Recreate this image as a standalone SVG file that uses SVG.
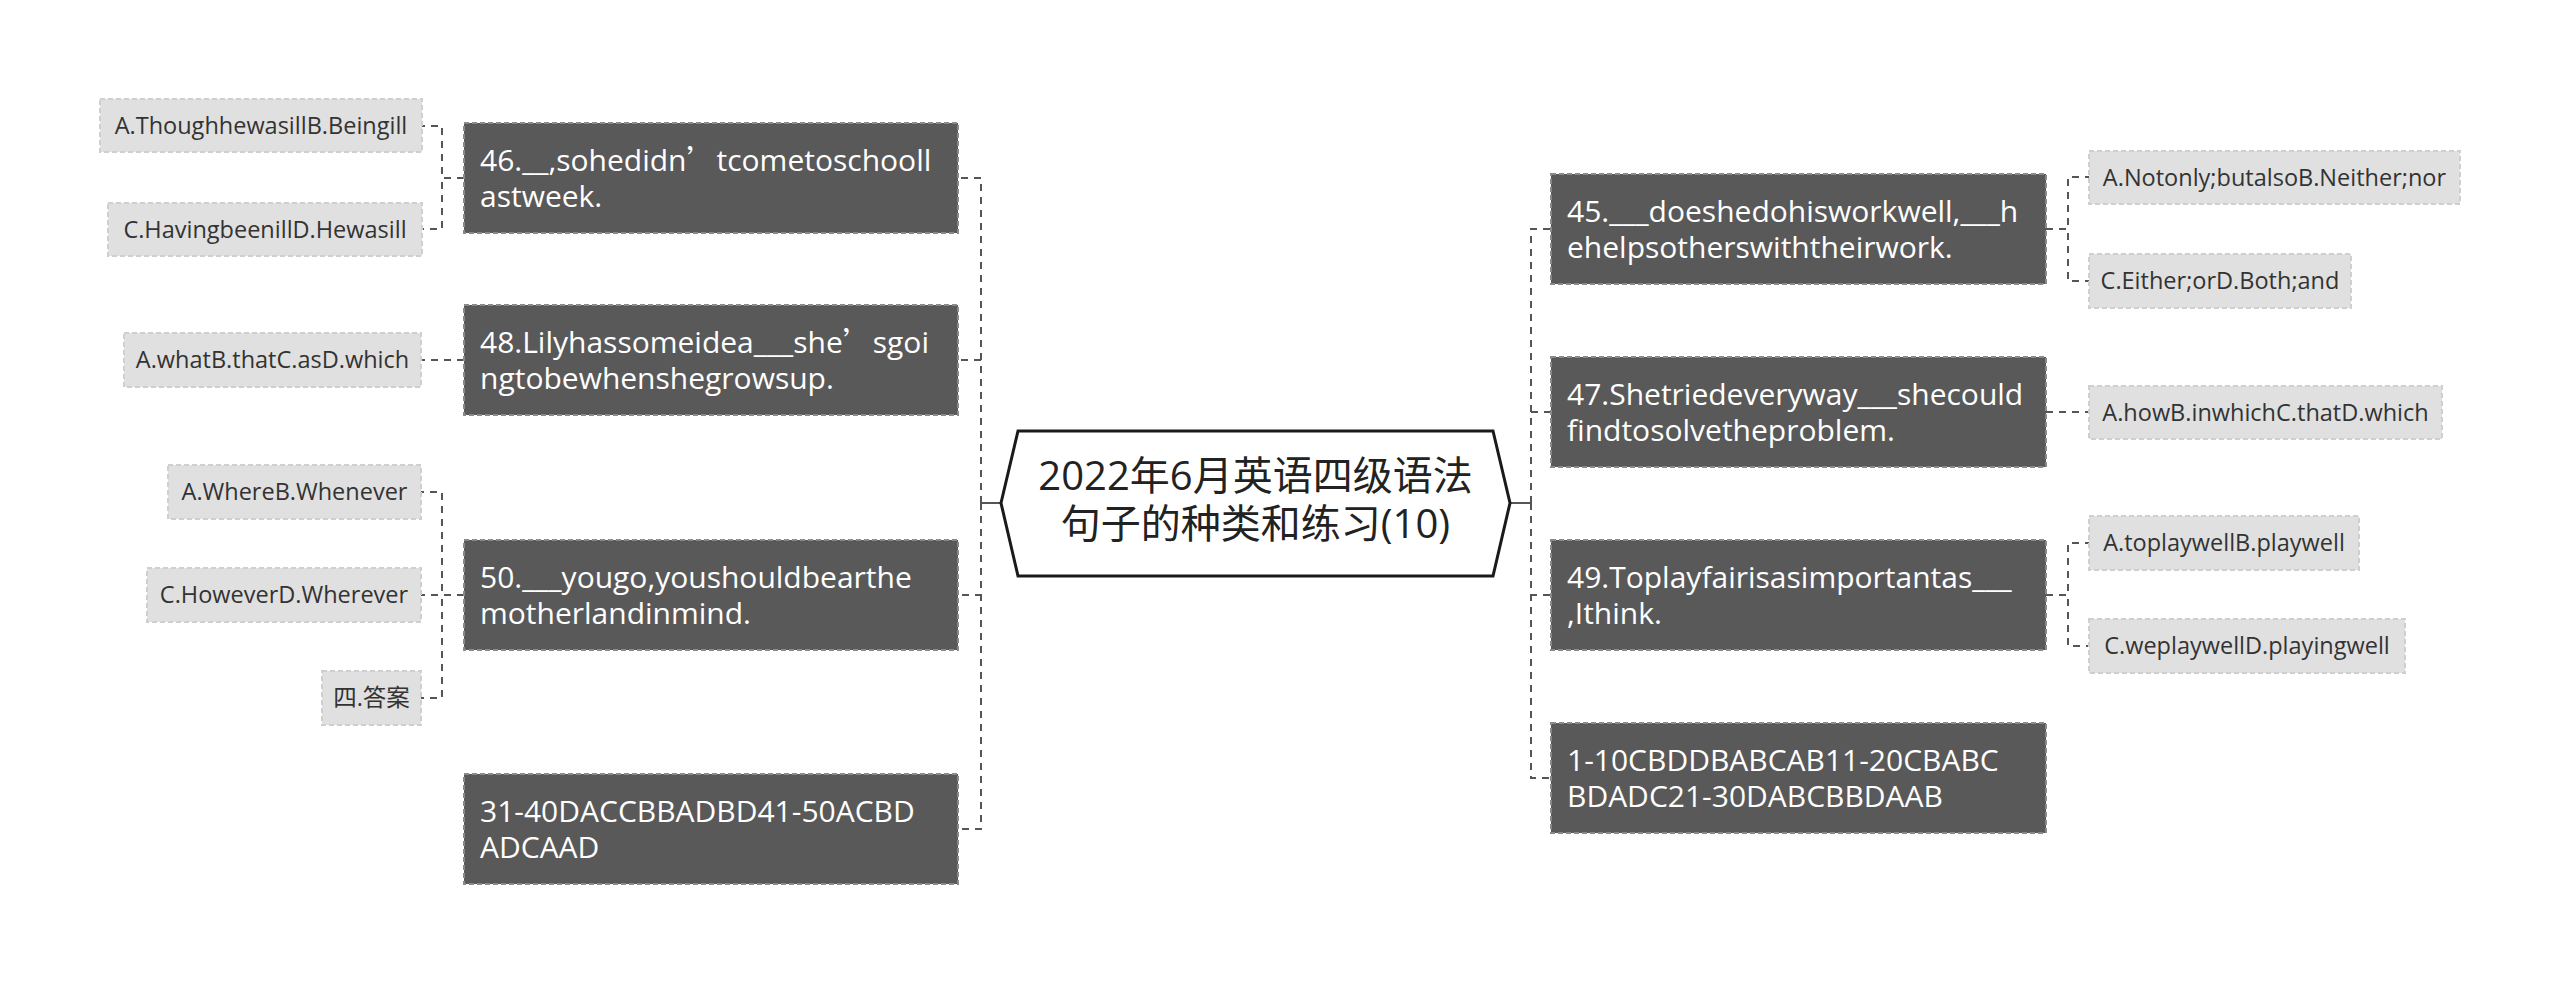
<svg xmlns="http://www.w3.org/2000/svg" width="2560" height="984" viewBox="0 0 2560 984">
<style>
text{font-family:"Open Sans","Noto Sans CJK SC",sans-serif}
.dark rect{fill:#595959;stroke:#8a8a8a;stroke-width:2;stroke-dasharray:5 3}
.dark text{fill:#fff;font-size:30px}
.light rect{fill:#e0e0e0;stroke:#cfcfcf;stroke-width:2;stroke-dasharray:5 3}
.light text{fill:#333;font-size:23.5px;text-anchor:middle}
.q{font-family:"Noto Sans CJK SC",sans-serif}
#connectors path{fill:none;stroke:#555;stroke-width:2;stroke-dasharray:7 6}
#connectors path.solid{stroke-dasharray:none}
</style>
<rect x="0" y="0" width="2560" height="984" fill="#fff"/>
<g id="connectors">
<path class="solid" d="M1001 503H981"/>
<path d="M981 503V178H959"/>
<path d="M981 503V360H959"/>
<path d="M981 503V595H959"/>
<path d="M981 503V829H959"/>
<path class="solid" d="M1510 503H1531"/>
<path d="M1531 503V229H1551"/>
<path d="M1531 503V412H1551"/>
<path d="M1531 503V595H1551"/>
<path d="M1531 503V778H1551"/>
<path d="M464 178H442V126H422"/>
<path d="M464 178H442V229H422"/>
<path d="M464 360H421"/>
<path d="M464 595H442V492H421"/>
<path d="M464 595H421"/>
<path d="M464 595H442V698H421"/>
<path d="M2046 229H2068V177H2089"/>
<path d="M2046 229H2068V281H2089"/>
<path d="M2046 412H2089"/>
<path d="M2046 595H2068V543H2089"/>
<path d="M2046 595H2068V646H2089"/>
</g>
<g id="root">
<polygon points="1001,503 1018,431 1493,431 1510,503 1493,576 1018,576" fill="#fff" stroke="#1a1a1a" stroke-width="3"/>
<text x="1255.5" y="490" font-size="40" fill="#222" text-anchor="middle">2022年6月英语四级语法</text>
<text x="1255.5" y="538" font-size="40" fill="#222" text-anchor="middle">句子的种类和练习(10)</text>
</g>
<g id="n46" class="dark"><rect x="464" y="123" width="494" height="110"/>
<text x="480" y="171">46.__,sohedidn<tspan class="q">’</tspan>tcometoschooll</text><text x="480" y="207">astweek.</text></g>
<g id="n48" class="dark"><rect x="464" y="305" width="494" height="110"/>
<text x="480" y="353">48.Lilyhassomeidea___she<tspan class="q">’</tspan>sgoi</text><text x="480" y="389">ngtobewhenshegrowsup.</text></g>
<g id="n50" class="dark"><rect x="464" y="540" width="494" height="110"/>
<text x="480" y="588">50.___yougo,youshouldbearthe</text><text x="480" y="624">motherlandinmind.</text></g>
<g id="nans1" class="dark"><rect x="464" y="774" width="494" height="110"/>
<text x="480" y="822">31-40DACCBBADBD41-50ACBD</text><text x="480" y="858">ADCAAD</text></g>
<g id="n45" class="dark"><rect x="1551" y="174" width="495" height="110"/>
<text x="1567" y="222">45.___doeshedohisworkwell,___h</text><text x="1567" y="258">ehelpsotherswiththeirwork.</text></g>
<g id="n47" class="dark"><rect x="1551" y="357" width="495" height="110"/>
<text x="1567" y="405">47.Shetriedeveryway___shecould</text><text x="1567" y="441">findtosolvetheproblem.</text></g>
<g id="n49" class="dark"><rect x="1551" y="540" width="495" height="110"/>
<text x="1567" y="588">49.Toplayfairisasimportantas___</text><text x="1567" y="624">,Ithink.</text></g>
<g id="nans2" class="dark"><rect x="1551" y="723" width="495" height="110"/>
<text x="1567" y="771">1-10CBDDBABCAB11-20CBABC</text><text x="1567" y="807">BDADC21-30DABCBBDAAB</text></g>
<g id="o46a" class="light"><rect x="100" y="99" width="322" height="53"/><text x="261" y="134">A.ThoughhewasillB.Beingill</text></g>
<g id="o46c" class="light"><rect x="108" y="203" width="314" height="53"/><text x="265" y="238">C.HavingbeenillD.Hewasill</text></g>
<g id="o48" class="light"><rect x="124" y="333" width="297" height="54"/><text x="272.5" y="368">A.whatB.thatC.asD.which</text></g>
<g id="o50a" class="light"><rect x="168" y="465" width="253" height="54"/><text x="294.5" y="500">A.WhereB.Whenever</text></g>
<g id="o50c" class="light"><rect x="147" y="568" width="274" height="54"/><text x="284" y="603">C.HoweverD.Wherever</text></g>
<g id="o50d" class="light"><rect x="322" y="671" width="99" height="54"/><text x="371.5" y="706">四.答案</text></g>
<g id="o45a" class="light"><rect x="2089" y="151" width="371" height="53"/><text x="2274.5" y="186">A.Notonly;butalsoB.Neither;nor</text></g>
<g id="o45c" class="light"><rect x="2089" y="254" width="262" height="54"/><text x="2220" y="289">C.Either;orD.Both;and</text></g>
<g id="o47" class="light"><rect x="2089" y="386" width="353" height="53"/><text x="2265.5" y="421">A.howB.inwhichC.thatD.which</text></g>
<g id="o49a" class="light"><rect x="2089" y="516" width="270" height="54"/><text x="2224" y="551">A.toplaywellB.playwell</text></g>
<g id="o49c" class="light"><rect x="2089" y="619" width="316" height="54"/><text x="2247" y="654">C.weplaywellD.playingwell</text></g>
</svg>
